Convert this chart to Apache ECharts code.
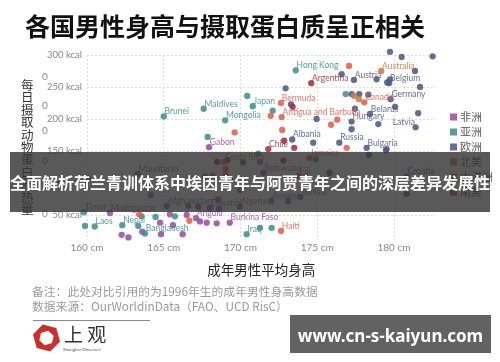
<!DOCTYPE html>
<html><head><meta charset="utf-8">
<script src="https://cdn.jsdelivr.net/npm/echarts@6/dist/echarts.min.js"></script>
<style>html,body{margin:0;padding:0;background:#fff}#c{width:500px;height:362px}</style>
</head><body><div id="c"></div>
<script>
// ---- data ----
const categories = ['非洲', '亚洲', '欧洲', '北美', '大洋洲', '南美'];
const xTicks = [160, 165, 170, 175, 180];
const yTicks = [50, 100, 150, 200, 250, 300];

// [height cm, animal protein kcal, label]
const africa = [
  [167.95, 156, 'Gabon'], [163.3, 114, 'Mauritania'], [161.5, 53, 'Madagascar'],
  [167.1, 45, 'Angola'], [169.3, 38, 'Burkina Faso'], [171.5, 116, 'Botswana'],
  [169.97, 63, 'Algeria'], [173.9, 78, 'Tunisia'], [168.0, 61, 'Eswatini'],
  [165.4, 51, ''], [166.5, 50, ''], [167.36, 40, ''], [167.8, 38, ''], [168.45, 37, ''],
  [164.76, 38, ''], [163.6, 24, ''], [164.82, 20, ''], [166.23, 20, ''], [162.26, 19, ''],
  [162.7, 15, ''], [165.6, 34, ''], [173.1, 72, ''], [168.18, 111, ''], [168.55, 74, ''],
  [166.6, 64, ''], [167.25, 63, ''], [168.6, 59, '']
];
const asia = [
  [165.0, 204, 'Brunei'], [167.6, 216, 'Maldives'], [169.0, 198, 'Mongolia'],
  [170.8, 220, 'Japan'], [173.6, 276, 'Hong Kong'], [165.2, 64, 'Afghanistan'],
  [159.8, 54, 'Timor'], [160.5, 32, 'Laos'], [162.3, 34, 'Nepal'],
  [163.78, 21, 'Bangladesh'], [170.4, 20, 'Iraq'], [172.0, 72, 'Armenia'],
  [170.44, 236, ''], [167.86, 172, ''], [172.1, 213, ''], [176.85, 239, ''],
  [171.16, 146, ''], [171.27, 133, ''], [174.9, 137, ''], [160.08, 107, ''],
  [164.0, 97, ''], [164.15, 81, ''], [167.69, 110, ''], [163.56, 48, ''],
  [164.47, 47, ''], [165.73, 48, ''], [159.87, 33, ''], [163.34, 33, ''],
  [171.27, 30, ''], [172.03, 30, ''], [169.97, 89, '']
];
const europe = [
  [177.39, 261, 'Austria'], [179.69, 256, 'Belgium'], [179.78, 231, 'Germany'],
  [178.44, 208, 'Belarus'], [177.24, 196, 'Hungary'], [181.41, 187, 'Latvia'],
  [173.37, 168, 'Albania'], [176.44, 163, 'Russia'], [178.22, 155, 'Bulgaria'],
  [180.83, 110, 'Croatia'],
  [176.59, 270, ''], [178.87, 262, ''], [179.56, 257, ''], [179.74, 262, ''],
  [181.37, 275, ''], [181.7, 250, ''], [179.74, 305, ''], [180.5, 297, ''],
  [182.52, 298, ''], [172.94, 248, ''], [173.29, 223, ''], [174.96, 200, ''],
  [177.24, 239, ''], [177.74, 239, ''], [178.33, 238, ''], [180.07, 219, ''],
  [177.46, 216, ''], [181.58, 209, ''], [177.24, 184, ''], [178.98, 192, ''],
  [174.74, 163, ''], [179.52, 153, ''], [178.37, 144, ''], [179.48, 151, ''],
  [180.83, 83, ''], [170.18, 132, ''], [169.32, 106, ''], [175.8, 116, '']
];
const northAmerica = [
  [172.64, 225, 'Bermuda'], [172.68, 203, 'Antigua and Barbuda'], [178.07, 226, 'Canada'],
  [174.48, 139, 'Jamaica'], [168.94, 133, 'Costa Rica'], [172.64, 25, 'Haiti'],
  [169.62, 179, ''], [177.07, 283, ''], [171.97, 205, ''], [176.3, 199, ''],
  [175.9, 191, ''], [172.72, 183, ''], [176.92, 155, ''], [163.4, 51, ''],
  [166.67, 41, ''], [169.04, 122, ''], [169.04, 113, '']
];
const oceania = [
  [179.17, 275, 'Australia'], [173.8, 111, 'Fiji'], [177.41, 236, ''], [177.72, 231, '']
];
const southAmerica = [
  [174.61, 256, 'Argentina'], [171.81, 153, 'Chile'], [173.4, 219, ''],
  [172.85, 166, ''], [173.5, 155, ''], [172.8, 135, ''], [168.48, 133, ''], [169.16, 136, '']
];
const leftLabels = ['Latvia'];

const groups = [africa, asia, europe, northAmerica, oceania, southAmerica];
const colors = ['#9d4c9f', '#3f8f8e', '#4f5a80', '#e35f4e', '#c57d45', '#a3313f'];

const chart = echarts.init(document.getElementById('c'));

const series = groups.map((g, i) => ({
  name: categories[i],
  type: 'scatter',
  symbolSize: 6.3,
  clip: false,
  itemStyle: { color: colors[i], opacity: 0.88 },
  label: {
    show: true,
    formatter: p => p.data.value[2] || '',
    position: [4, -1.8],
    align: 'left',
    verticalAlign: 'middle',
    color: colors[i],
    fontSize: 8.5,
    fontFamily: 'Lato'
  },
  labelLayout: { hideOverlap: false },
  data: g.map(d => {
    const o = { value: d };
    if (leftLabels.indexOf(d[2]) >= 0) o.label = { position: [2.5, -1.8], align: 'right' };
    return o;
  })
}));

const zeroMarks = [78, 107, 132, 162, 215].map(y => ({
  type: 'text', left: 42, top: y - 6,
  style: { text: '0', fontSize: 10, fill: '#888', fontFamily: 'Lato' }
}));

// logo hexagons
function hex(cx, cy, r, rot) {
  const pts = [];
  for (let k = 0; k < 6; k++) {
    const a = rot + k * Math.PI / 3;
    pts.push([cx + r * Math.cos(a), cy + r * Math.sin(a)]);
  }
  return pts;
}

chart.setOption({
  animation: false,
  title: {
    text: '各国男性身高与摄取蛋白质呈正相关',
    left: 20, top: 9,
    textStyle: { fontSize: 25, fontWeight: 'bold', color: '#111', fontFamily: 'Noto Sans CJK SC' }
  },
  legend: {
    orient: 'vertical', left: 445, top: 106,
    itemWidth: 7, itemHeight: 7, itemGap: 3,
    icon: 'rect',
    data: categories,
    textStyle: { fontSize: 11, color: '#555', lineHeight: 12, padding: [0, 0, 0, -2], fontFamily: 'Noto Sans CJK SC' }
  },
  grid: { left: 87, right: 64.6, top: 55, bottom: 124.6 },
  xAxis: {
    type: 'value', min: 160, max: 182.7,
    name: '成年男性平均身高', nameLocation: 'middle', nameGap: 26,
    nameTextStyle: { fontSize: 13.5, color: '#222', fontFamily: 'Noto Sans CJK SC' },
    axisLine: { show: false }, axisTick: { show: false, customValues: xTicks },
    axisLabel: { customValues: xTicks, formatter: '{value} cm', fontSize: 10, color: '#888', margin: 5, fontFamily: 'Lato' },
    splitLine: { show: true, lineStyle: { type: [2, 2], color: '#dcdcdc' } }
  },
  yAxis: {
    type: 'value', min: 15, max: 300,
    axisLine: { show: false }, axisTick: { show: false, customValues: yTicks },
    axisLabel: { customValues: yTicks, formatter: '{value} kcal', fontSize: 9.5, color: '#888', margin: 5, fontFamily: 'Lato' },
    splitLine: { show: true, lineStyle: { type: [2, 2], color: '#dcdcdc' } }
  },
  graphic: [
    {
      type: 'text', left: 21, top: 79,
      style: { text: '每\n日\n摄\n取\n动\n物\n蛋\n白\n质\n热\n量', fontSize: 12.5, lineHeight: 12.4, fill: '#333', fontFamily: 'Noto Sans CJK SC' }
    },
    ...zeroMarks,
    {
      type: 'text', left: 32, top: 286,
      style: { text: '备注：此处对比引用的为1996年生的成年男性身高数据', fontSize: 11.8, fill: '#9a9a9a', fontFamily: 'Noto Sans CJK SC' }
    },
    {
      type: 'text', left: 32, top: 301,
      style: { text: '数据来源：OurWorldinData（FAO、UCD RisC）', fontSize: 11.8, fill: '#9a9a9a', fontFamily: 'Noto Sans CJK SC' }
    },
    { type: 'line', shape: { x1: 33, y1: 320.5, x2: 150, y2: 320.5 }, style: { stroke: '#888', lineWidth: 1 } },
    { type: 'polygon', shape: { points: hex(46.5, 338, 14, 0.25) }, style: { fill: '#c9302c' } },
    { type: 'polygon', shape: { points: hex(46.5, 338, 7.5, 0.75) }, style: { fill: '#fff' } },
    {
      type: 'text', left: 64, top: 325,
      style: { text: '上 观', fontSize: 19, fill: '#333', fontFamily: 'Noto Sans CJK SC' }
    },
    {
      type: 'text', left: 63, top: 347,
      style: { text: 'Shanghai Observer', fontSize: 4.5, fill: '#555', fontFamily: 'Lato' }
    },
    {
      type: 'rect', z: 100, shape: { x: 10, y: 152, width: 480, height: 60 },
      style: { fill: 'rgba(52,52,52,0.82)' }
    },
    {
      type: 'text', z: 101, x: 250, y: 183,
      style: { text: '全面解析荷兰青训体系中埃因青年与阿贾青年之间的深层差异发展性', fontSize: 16, fontWeight: 'bold', fill: '#fff', align: 'center', verticalAlign: 'middle', fontFamily: 'Noto Sans CJK SC' }
    },
    {
      type: 'rect', z: 100, shape: { x: 290, y: 315, width: 201, height: 38 },
      style: { fill: '#626262' }
    },
    {
      type: 'text', z: 101, x: 390.5, y: 337,
      style: { text: 'www.cn-s-kaiyun.com', fontSize: 17, fontWeight: 'bold', fill: '#fff', align: 'center', verticalAlign: 'middle', fontFamily: 'Noto Sans' }
    }
  ],
  series: series
});
</script>
</body></html>
